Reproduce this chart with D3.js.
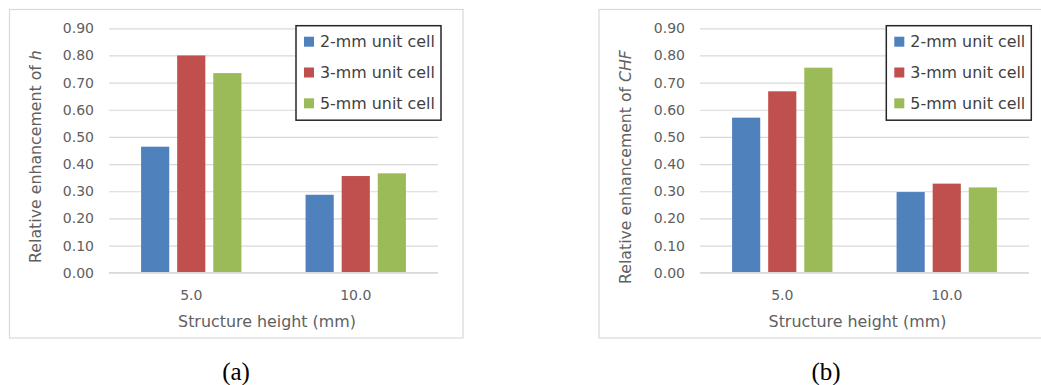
<!DOCTYPE html>
<html><head><meta charset="utf-8">
<script src="https://cdn.jsdelivr.net/npm/d3@7"></script>
<style>
body{margin:0;background:#fff;}
svg{display:block;}
text{font-family:"DejaVu Sans",sans-serif;}
</style></head>
<body>
<svg id="chart" width="1041" height="385"></svg>
<script>
const categories = ["5.0", "10.0"];
const seriesNames = ["2-mm unit cell", "3-mm unit cell", "5-mm unit cell"];
const seriesColors = ["#4f81bd", "#c0504d", "#9bbb59"];
const hValues = [[0.464, 0.287], [0.800, 0.356], [0.735, 0.366]];
const chfValues = [[0.571, 0.297], [0.668, 0.328], [0.755, 0.314]];
const yTicks = [0, 0.1, 0.2, 0.3, 0.4, 0.5, 0.6, 0.7, 0.8, 0.9];
const xTitle = "Structure height (mm)";
const yTitlePrefix = "Relative enhancement of ";
const yTitleVars = ["h", "CHF"];
const captions = ["(a)", "(b)"];

const svg = d3.select("#chart");
const FONT = "'DejaVu Sans',sans-serif";

function fit(sel, target) {
  const n = sel.node();
  const w = n.getComputedTextLength();
  const fs = parseFloat(sel.style("font-size"));
  sel.style("font-size", (fs * target / w) + "px");
}

function panel(cfg) {
  const g = svg.append("g");
  g.append("rect").attr("x", cfg.fx0).attr("y", 9.5).attr("width", cfg.fx1 - cfg.fx0).attr("height", 328.5)
    .attr("fill", "#fff").attr("stroke", "#d9d9d9").attr("stroke-width", 1.2);

  const y = d3.scaleLinear().domain([0, 0.9]).range([272.7, 28.3]);
  const x0 = d3.scaleBand().domain(categories).range([cfg.px0, cfg.px1]).paddingInner(0.39).paddingOuter(0.195);
  const x1 = d3.scaleBand().domain(seriesNames).range([0, x0.bandwidth()]).paddingInner(0.22);

  const ya = d3.axisLeft(y).tickValues(yTicks).tickSize(-(cfg.px1 - cfg.px0)).tickFormat(d3.format(".2f")).tickPadding(15);
  const yg = g.append("g").attr("transform", `translate(${cfg.px0},0)`).call(ya);
  yg.select(".domain").remove();
  yg.selectAll(".tick line").attr("stroke", "#d9d9d9").attr("stroke-width", 1.2);
  yg.selectAll(".tick text").attr("fill", "#606060").style("font-size", "14px").style("font-family", FONT);

  seriesNames.forEach((s, si) => {
    const vals = cfg.values[si];
    g.append("g").selectAll("rect").data(categories).join("rect")
      .attr("x", c => x0(c) + x1(s))
      .attr("width", x1.bandwidth())
      .attr("y", (c, ci) => y(vals[ci]))
      .attr("height", (c, ci) => y(0) - y(vals[ci]))
      .attr("fill", seriesColors[si]);
  });

  const xa = d3.axisBottom(x0).tickSize(0);
  const xg = g.append("g").attr("transform", `translate(0,${y(0)})`).call(xa);
  xg.select(".domain").remove();
  xg.selectAll(".tick text").attr("y", 295 - y(0)).attr("dy", "0.36em")
    .attr("fill", "#606060").style("font-size", "14px").style("font-family", FONT);
  g.append("line").attr("x1", cfg.px0).attr("x2", cfg.px1).attr("y1", y(0)).attr("y2", y(0)).attr("stroke", "#d9d9d9").attr("stroke-width", 1.2);

  const xt = g.append("text").attr("x", cfg.xtx).attr("y", 321.7).attr("dy", "0.36em").attr("text-anchor", "middle")
    .attr("fill", "#606060").style("font-size", "15px").text(xTitle);
  fit(xt, 178);

  const yt = g.append("text").attr("transform", `translate(${cfg.ytx},${cfg.yty}) rotate(-90)`).attr("dy", "0.36em").attr("text-anchor", "middle")
    .attr("fill", "#606060").style("font-size", "15px");
  yt.append("tspan").text(yTitlePrefix);
  yt.append("tspan").style("font-style", "italic").text(cfg.yvar);
  fit(yt, cfg.ytw);

  const lg = g.append("g").attr("transform", `translate(${cfg.lx},25.7)`);
  lg.append("rect").attr("width", 145).attr("height", 94.5).attr("fill", "#fff").attr("stroke", "#262626").attr("stroke-width", 1.5);
  seriesNames.forEach((s, i) => {
    const cy = 16 + i * 30.8;
    lg.append("rect").attr("x", 8).attr("y", cy - 5).attr("width", 10).attr("height", 10).attr("fill", seriesColors[i]);
    const t = lg.append("text").attr("x", 24).attr("y", cy).attr("dy", "0.36em").attr("fill", "#404040")
      .style("font-size", "16px").text(s);
    fit(t, 115);
  });

  svg.append("text").attr("x", cfg.capx).attr("y", 380).attr("text-anchor", "middle")
    .style("font-family", "'Liberation Serif','Times New Roman',serif").style("font-size", "25px").attr("fill", "#000").text(cfg.caption);
}

panel({fx0: 9.5, fx1: 463, px0: 109, px1: 438, values: hValues, yvar: yTitleVars[0], ytx: 35, yty: 156.5, ytw: 213, xtx: 267, lx: 296, caption: captions[0], capx: 236});
panel({fx0: 599, fx1: 1045, px0: 700, px1: 1029, values: chfValues, yvar: yTitleVars[1], ytx: 625, yty: 167, ytw: 234, xtx: 857.5, lx: 886.3, caption: captions[1], capx: 826});
</script>
</body></html>
